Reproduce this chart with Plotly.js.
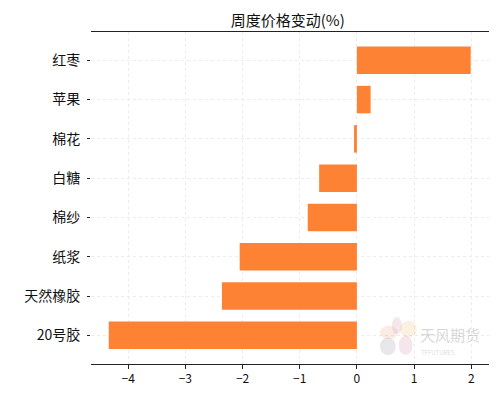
<!DOCTYPE html>
<html>
<head>
<meta charset="utf-8">
<script src="https://cdn.plot.ly/plotly-3.0.1.min.js"></script>
<style>html,body{margin:0;padding:0;background:#fff;}#chart{width:504px;height:396px;}</style>
</head>
<body>
<div id="chart"></div>
<script>
const categories = ["20号胶", "天然橡胶", "纸浆", "棉纱", "白糖", "棉花", "苹果", "红枣"];
const changes = [-4.34, -2.36, -2.05, -0.86, -0.66, -0.05, 0.24, 1.99];
const xTicks = [-4, -3, -2, -1, 0, 1, 2];

const font = "'Noto Sans CJK SC', 'Noto Sans', sans-serif";

const trace = {
  type: "bar",
  orientation: "h",
  x: changes,
  y: categories,
  width: 0.7,
  marker: {color: "#fd8233", line: {width: 0}},
  hoverinfo: "x+y"
};

const layout = {
  width: 504,
  height: 396,
  margin: {l: 91, r: 15, t: 32, b: 32},
  paper_bgcolor: "#ffffff",
  plot_bgcolor: "#ffffff",
  showlegend: false,
  title: {text: "周度价格变动(%)", x: 0.571, xref: "container", xanchor: "center", y: 0.947, yanchor: "middle",
          font: {family: font, size: 15, color: "#111"}},
  xaxis: {
    range: [-4.65, 2.31],
    tickvals: xTicks,
    ticktext: xTicks.map(v => v < 0 ? "\u2212" + Math.abs(v) : String(v)),
    showgrid: true,
    gridcolor: "#ececec",
    griddash: "dot",
    gridwidth: 1,
    zeroline: false,
    showline: true,
    linecolor: "#222",
    linewidth: 1,
    mirror: true,
    ticks: "outside",
    ticklen: 4,
    tickcolor: "#222",
    tickfont: {family: font, size: 12, color: "#111"}
  },
  yaxis: {
    type: "category",
    categoryorder: "array",
    categoryarray: categories,
    range: [-0.73, 7.72],
    showgrid: true,
    gridcolor: "#ececec",
    griddash: "dot",
    gridwidth: 1,
    zeroline: false,
    showline: false,
    ticks: "outside",
    ticklen: 3,
    tickcolor: "#222",
    ticklabelstandoff: 4,
    tickfont: {family: font, size: 14, color: "#111"}
  },
  annotations: [
    {xref: "paper", yref: "paper", x: 0.902, y: 0.09, xanchor: "center", yanchor: "middle", text: "天风期货", showarrow: false,
     font: {family: font, size: 15, color: "rgba(175,175,175,0.5)"}},
    {xref: "paper", yref: "paper", x: 0.872, y: 0.036, xanchor: "center", yanchor: "middle", text: "TFFUTURES", showarrow: false,
     font: {family: font, size: 6, color: "rgba(185,185,185,0.5)"}}
  ],
  shapes: [
    {type: "circle", xref: "paper", yref: "paper", x0: 0.726, x1: 0.766, y0: 0.027, y1: 0.08, fillcolor: "rgba(150,150,160,0.22)", line: {width: 0}},
    {type: "circle", xref: "paper", yref: "paper", x0: 0.773, x1: 0.808, y0: 0.027, y1: 0.085, fillcolor: "rgba(200,130,160,0.2)", line: {width: 0}},
    {type: "circle", xref: "paper", yref: "paper", x0: 0.726, x1: 0.771, y0: 0.075, y1: 0.115, fillcolor: "rgba(230,160,120,0.2)", line: {width: 0}},
    {type: "circle", xref: "paper", yref: "paper", x0: 0.776, x1: 0.819, y0: 0.08, y1: 0.13, fillcolor: "rgba(240,190,120,0.22)", line: {width: 0}},
    {type: "circle", xref: "paper", yref: "paper", x0: 0.756, x1: 0.781, y0: 0.09, y1: 0.142, fillcolor: "rgba(200,140,170,0.2)", line: {width: 0}}
  ]
};

Plotly.newPlot("chart", [trace], layout, {displayModeBar: false, staticPlot: true});
</script>
</body>
</html>
